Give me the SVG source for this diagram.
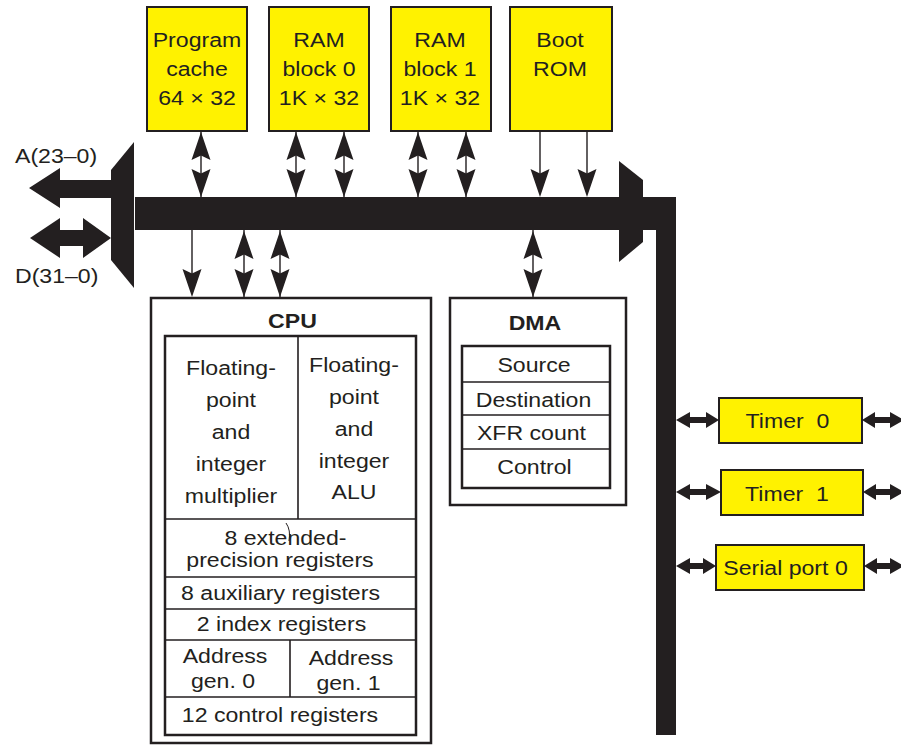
<svg xmlns="http://www.w3.org/2000/svg" xmlns:xlink="http://www.w3.org/1999/xlink" width="901" height="746" viewBox="0 0 901 746">
<style>
.t{font-family:"Liberation Sans",Arial,sans-serif;font-size:21px;fill:#231f20;text-anchor:middle;transform:scale(1.1,1);white-space:pre}
.s{text-anchor:start}
.b{font-weight:bold}
.y{fill:#fff200;stroke:#231f20;stroke-width:2}
.box{fill:#fff;stroke:#231f20;stroke-width:2.5}
.ln{stroke:#231f20;stroke-width:1.6;fill:none}
.k{fill:#231f20}
.w{stroke:#231f20;stroke-width:1.4;fill:none}
</style>
<defs>
<path id="hd" d="M0,0 L9.5,28 L0,23.5 L-9.5,28 Z" fill="#231f20"/>
</defs>
<rect width="901" height="746" fill="#fff"/>

<g id="bus">
<polygon class="k" points="111,170 134,142 134,288 111,260"/>
<polygon class="k" points="619,161 643,180 643,242 619,262"/>
<rect class="k" x="135" y="197" width="541" height="33"/>
<rect class="k" x="656" y="197" width="20" height="538"/>
<polygon class="k" points="29,188 60,168 60,180 111,180 111,198 60,198 60,208"/>
<polygon class="k" points="30,238 60,218 60,230 83,230 83,218 111,238 83,258 83,246 60,246 60,258"/>
<text class="t s" x="13.64" y="163">A(23–0)</text>
<text class="t s" x="13.64" y="283">D(31–0)</text>
</g>

<g id="program-cache">
<rect class="y" x="147" y="7" width="100" height="124"/>
<text class="t" x="179.09" y="47">Program</text>
<text class="t" x="179.09" y="76">cache</text>
<text class="t" x="179.09" y="105">64 × 32</text>
</g>
<g id="ram0">
<rect class="y" x="269" y="7" width="100" height="124"/>
<text class="t" x="290" y="47">RAM</text>
<text class="t" x="290" y="76">block 0</text>
<text class="t" x="290" y="105">1K × 32</text>
</g>
<g id="ram1">
<rect class="y" x="391" y="7" width="100" height="124"/>
<text class="t" x="400" y="47">RAM</text>
<text class="t" x="400" y="76">block 1</text>
<text class="t" x="400" y="105">1K × 32</text>
</g>
<g id="boot-rom">
<rect class="y" x="510" y="7" width="102" height="124"/>
<text class="t" x="509.09" y="47">Boot</text>
<text class="t" x="509.09" y="76">ROM</text>
</g>

<g id="cpu">
<rect class="box" x="151" y="298" width="280" height="445"/>
<rect class="box" x="165" y="336" width="251" height="399"/>
<path class="ln" d="M298,336 V519 M165,519 H416 M165,577 H416 M165,609 H416 M165,640 H416 M290,640 V697 M165,697 H416"/>
<path d="M286,523 Q291,530 289,541" stroke="#231f20" stroke-width="1" fill="none"/>
<text class="t b" x="265.91" y="328">CPU</text>
<text class="t" x="210" y="375">Floating-</text>
<text class="t" x="210" y="407">point</text>
<text class="t" x="210" y="439">and</text>
<text class="t" x="210" y="471">integer</text>
<text class="t" x="210" y="503">multiplier</text>
<text class="t" x="321.82" y="372">Floating-</text>
<text class="t" x="321.82" y="404">point</text>
<text class="t" x="321.82" y="436">and</text>
<text class="t" x="321.82" y="468">integer</text>
<text class="t" x="321.82" y="499">ALU</text>
<text class="t" x="259.55" y="545">8 extended-</text>
<text class="t" x="254.55" y="567">precision registers</text>
<text class="t" x="255" y="600">8 auxiliary registers</text>
<text class="t" x="255.91" y="631">2 index registers</text>
<text class="t" x="204.55" y="663">Address</text>
<text class="t" x="202.73" y="688">gen. 0</text>
<text class="t" x="319.09" y="665">Address</text>
<text class="t" x="316.82" y="690">gen. 1</text>
<text class="t" x="254.55" y="722">12 control registers</text>
</g>

<g id="dma">
<rect class="box" x="450" y="298" width="176" height="207"/>
<rect class="box" x="462" y="346" width="148" height="142"/>
<path class="ln" d="M462,382 H610 M462,415 H610 M462,449 H610"/>
<text class="t b" x="486.36" y="330">DMA</text>
<text class="t" x="485.45" y="372">Source</text>
<text class="t" x="485" y="407">Destination</text>
<text class="t" x="483.18" y="440">XFR count</text>
<text class="t" x="485.91" y="474">Control</text>
</g>

<g id="timer0">
<rect class="y" x="719" y="398" width="143" height="45"/>
<text class="t" x="715.91" y="428">Timer  0</text>
</g>
<g id="timer1">
<rect class="y" x="721" y="470" width="142" height="45"/>
<text class="t" x="715.45" y="501">Timer  1</text>
</g>
<g id="serial0">
<rect class="y" x="716" y="545" width="148" height="45"/>
<text class="t" x="714.09" y="575">Serial port 0</text>
</g>

<g id="connectors">
<path class="w" d="M201,131 V197 M296,131 V197 M344,131 V197 M418,131 V197 M466,131 V197 M540,131 V194 M587,131 V194 M192,230 V294 M244,230 V298 M280,230 V298 M533,230 V298"/>
<use xlink:href="#hd" transform="translate(201,132)"/>
<use xlink:href="#hd" transform="translate(201,197) rotate(180)"/>
<use xlink:href="#hd" transform="translate(296,132)"/>
<use xlink:href="#hd" transform="translate(296,197) rotate(180)"/>
<use xlink:href="#hd" transform="translate(344,132)"/>
<use xlink:href="#hd" transform="translate(344,197) rotate(180)"/>
<use xlink:href="#hd" transform="translate(418,132)"/>
<use xlink:href="#hd" transform="translate(418,197) rotate(180)"/>
<use xlink:href="#hd" transform="translate(466,132)"/>
<use xlink:href="#hd" transform="translate(466,197) rotate(180)"/>
<use xlink:href="#hd" transform="translate(540,197) rotate(180)"/>
<use xlink:href="#hd" transform="translate(587,197) rotate(180)"/>
<use xlink:href="#hd" transform="translate(192,297) rotate(180)"/>
<use xlink:href="#hd" transform="translate(244,231)"/>
<use xlink:href="#hd" transform="translate(244,297) rotate(180)"/>
<use xlink:href="#hd" transform="translate(280,231)"/>
<use xlink:href="#hd" transform="translate(280,297) rotate(180)"/>
<use xlink:href="#hd" transform="translate(533,231)"/>
<use xlink:href="#hd" transform="translate(533,297) rotate(180)"/>
<polygon class="k" points="676,420 690,412 690,417 706,417 706,412 719,420 706,428 706,423 690,423 690,428"/>
<polygon class="k" points="676,492 690,484 690,489 706,489 706,484 721,492 706,500 706,495 690,495 690,500"/>
<polygon class="k" points="676,566 690,558 690,563 703,563 703,558 716,566 703,574 703,569 690,569 690,574"/>
<polygon class="k" points="862,420 875,412 875,417 890,417 890,412 904,420 890,428 890,423 875,423 875,428"/>
<polygon class="k" points="863,492 876,484 876,489 890,489 890,484 904,492 890,500 890,495 876,495 876,500"/>
<polygon class="k" points="864,566 877,558 877,563 890,563 890,558 904,566 890,574 890,569 877,569 877,574"/>
</g>
</svg>
